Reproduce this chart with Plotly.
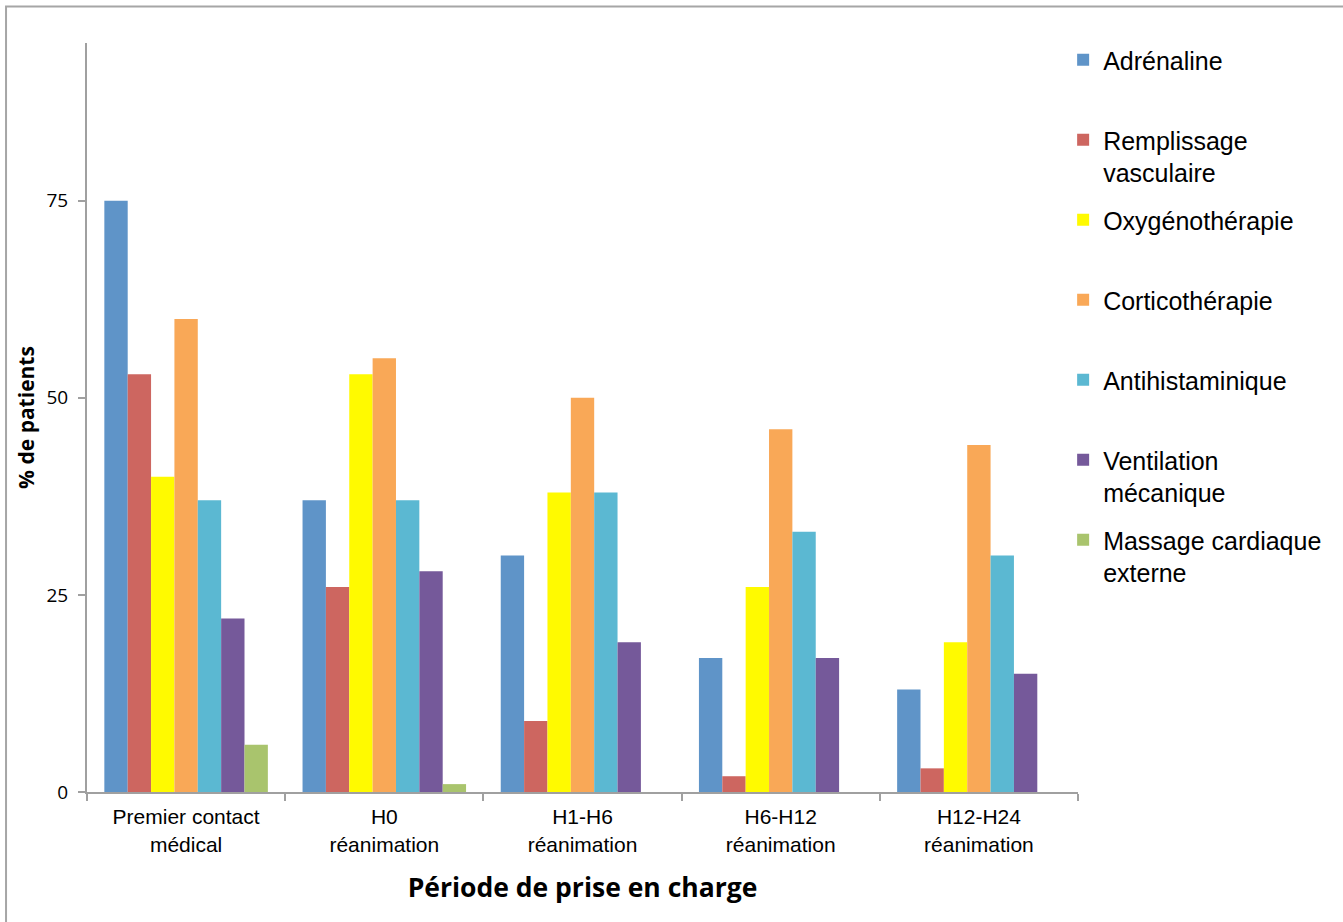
import plotly.graph_objects as go

# Périodes de prise en charge (axe des catégories)
periodes = [
    "Premier contact<br>médical",
    "H0<br>réanimation",
    "H1-H6<br>réanimation",
    "H6-H12<br>réanimation",
    "H12-H24<br>réanimation",
]

# Pourcentage de patients par traitement et par période
adrenaline = [75, 37, 30, 17, 13]
remplissage = [53, 26, 9, 2, 3]
oxygenotherapie = [40, 53, 38, 26, 19]
corticotherapie = [60, 55, 50, 46, 44]
antihistaminique = [37, 37, 38, 33, 30]
ventilation = [22, 28, 19, 17, 15]
massage = [6, 1, 0, 0, 0]

# Libellés de légende (tous sur deux lignes pour un pas régulier)
noms = [
    "Adrénaline<br> ",
    "Remplissage<br>vasculaire",
    "Oxygénothérapie<br> ",
    "Corticothérapie<br> ",
    "Antihistaminique<br> ",
    "Ventilation<br>mécanique",
    "Massage cardiaque<br>externe",
]
series = [adrenaline, remplissage, oxygenotherapie, corticotherapie,
          antihistaminique, ventilation, massage]
couleurs = ["#5F94C8", "#CD6660", "#FFFA00", "#F9A857",
            "#5BB8D2", "#75599A", "#A9C46D"]

fig = go.Figure()
for i, (nom, vals, coul) in enumerate(zip(noms, series, couleurs)):
    fig.add_trace(go.Bar(
        x=periodes, y=vals, name=nom,
        marker=dict(color=coul, line=dict(width=0)),
        legendgroup=f"g{i}",
    ))

axis_grey = "#A0A0A0"
fig.update_layout(
    width=1343, height=922,
    margin=dict(l=87, r=265, t=43, b=130),
    paper_bgcolor="white", plot_bgcolor="white",
    barmode="group", bargap=0.175, bargroupgap=0,
    font=dict(family="Liberation Sans, Arial, sans-serif", color="black"),
    xaxis=dict(
        type="category",
        showline=True, linecolor=axis_grey, linewidth=2,
        ticks="outside", tickson="boundaries", ticklen=7,
        tickcolor=axis_grey, tickwidth=2,
        tickfont=dict(size=21, family="Liberation Sans, Arial, sans-serif"),
        ticklabelstandoff=5,
        showgrid=False, zeroline=False,
        title=dict(text="<b>Période de prise en charge</b>",
                   font=dict(size=26.5, family="Open Sans, sans-serif"),
                   standoff=24),
    ),
    yaxis=dict(
        range=[0, 95],
        tickvals=[0, 25, 50, 75],
        showline=True, linecolor=axis_grey, linewidth=2,
        ticks="outside", ticklen=7, tickcolor=axis_grey, tickwidth=2,
        tickfont=dict(size=19, family="Open Sans, sans-serif"),
        ticklabelstandoff=6,
        showgrid=False, zeroline=False,
        title=dict(text="<b>% de patients</b>",
                   font=dict(size=21, family="Open Sans, sans-serif"),
                   standoff=6),
    ),
    legend=dict(
        x=0.985, xanchor="left", y=1.008, yanchor="top",
        font=dict(size=25, family="Liberation Sans, Arial, sans-serif"),
        valign="top", tracegroupgap=12, maxheight=880,
        bgcolor="rgba(0,0,0,0)",
    ),
    shapes=[dict(
        type="rect", xref="paper", yref="paper",
        x0=-0.0817, x1=1.28, y0=-0.19, y1=1.0487,
        line=dict(color="#A6A6A6", width=2), fillcolor="rgba(0,0,0,0)",
        layer="below",
    )],
)

fig.write_html("out.html")
